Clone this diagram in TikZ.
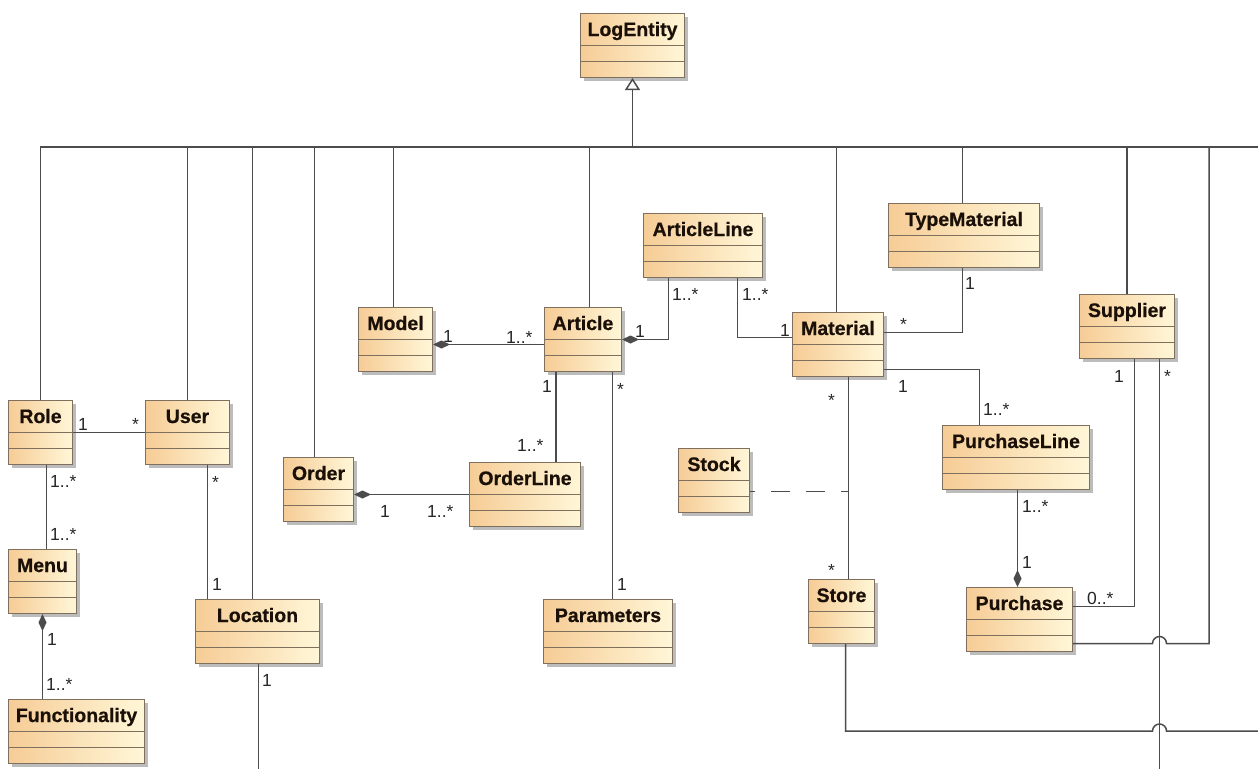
\documentclass[tikz,border=0pt]{standalone}
\usepackage{fontspec}
\setmainfont{Liberation Sans}
\newfontfamily\clsfont[FakeBold=0.6]{Liberation Sans Bold}
\usetikzlibrary{arrows.meta,shadows}

\definecolor{clsA}{HTML}{F6CC96}
\definecolor{clsB}{HTML}{FFF7D8}
\definecolor{clsBorder}{HTML}{7E705C}
\definecolor{linec}{HTML}{4C4C4C}
\definecolor{txt}{HTML}{1A1008}

\tikzset{
  cls/.style={draw=clsBorder, line width=1pt, left color=clsA, right color=clsB,
    anchor=north west, minimum height=64pt, inner sep=0pt,
    drop shadow={shadow xshift=3pt, shadow yshift=-3pt, fill=black!40, opacity=0.65}},
  clsline/.style={draw=clsBorder, line width=1pt},
  clsname/.style={anchor=base, inner sep=0pt, text=txt,
    font=\clsfont\fontsize{19.5}{21}\selectfont},
  mlt/.style={anchor=base west, inner sep=0pt, text=black!85,
    font=\fontsize{17.5}{20}\selectfont},
  conn/.style={draw=linec, line width=1.5pt},
  comp/.style={conn, -{Diamond[length=17pt,width=8pt,fill=linec]}},
  gen/.style={conn, -{Triangle[length=12pt,width=15pt,fill=white]}},
  assocls/.style={conn, dash pattern=on 19pt off 16pt, dash phase=14pt},
}

% a UML class box: id, left x, top y (pixels from the top), width, title
\newcommand\umlclass[5]{%
  \node[cls, minimum width=#4pt] (#1) at (#2,-#3) {};
  \node[clsname] (#1-name) at ([yshift=-23pt]#1.north) {#5};
  \draw[clsline] ([yshift=-32pt]#1.north west) -- ([yshift=-32pt]#1.north east);
  \draw[clsline] ([yshift=-48pt]#1.north west) -- ([yshift=-48pt]#1.north east);
}
% a multiplicity label: id, x, baseline y, text
\newcommand\mult[4]{\node[mlt] (#1) at (#2,-#3) {#4};}

\begin{document}
\begin{tikzpicture}[x=1pt,y=1pt]
\useasboundingbox[fill=white] (0,0) rectangle (1258,-769);

% ---------- classes ----------
\umlclass{logentity}{580}{13}{104}{LogEntity}
\umlclass{role}{8}{400}{64}{Role}
\umlclass{user}{145}{400}{84}{User}
\umlclass{menu}{8}{549}{68}{Menu}
\umlclass{functionality}{8}{699}{136}{Functionality}
\umlclass{location}{195}{599}{124}{Location}
\umlclass{order}{283}{457}{70}{Order}
\umlclass{orderline}{469}{462}{111}{OrderLine}
\umlclass{model}{358}{307}{74}{Model}
\umlclass{article}{544}{307}{77}{Article}
\umlclass{articleline}{643}{213}{119}{ArticleLine}
\umlclass{material}{792}{312}{91}{Material}
\umlclass{typematerial}{888}{203}{151}{TypeMaterial}
\umlclass{supplier}{1079}{294}{95}{Supplier}
\umlclass{purchaseline}{942}{425}{147}{PurchaseLine}
\umlclass{purchase}{966}{587}{106}{Purchase}
\umlclass{store}{808}{579}{66}{Store}
\umlclass{stock}{678}{448}{71}{Stock}
\umlclass{parameters}{543}{599}{129}{Parameters}

% ---------- generalization tree towards LogEntity ----------
\coordinate (busL) at (40,-147);
\coordinate (busR) at (1258,-147);
\coordinate (busP) at (1209,-147);
\draw[conn] (role.north) |- (busR);
\draw[gen] (logentity.south |- busL) -- (logentity.south);
\draw[conn] (user.north) -- (user.north |- busL);
\draw[conn] ([xshift=-5pt]location.north) -- ([xshift=-5pt]location.north |- busL);
\draw[conn] ([xshift=-4pt]order.north) -- ([xshift=-4pt]order.north |- busL);
\draw[conn] ([xshift=-2pt]model.north) -- ([xshift=-2pt]model.north |- busL);
\draw[conn] ([xshift=6.5pt]article.north) -- ([xshift=6.5pt]article.north |- busL);
\draw[conn] ([xshift=-1.5pt]material.north) -- ([xshift=-1.5pt]material.north |- busL);
\draw[conn] ([xshift=-1.5pt]typematerial.north) -- ([xshift=-1.5pt]typematerial.north |- busL);
\draw[conn] (supplier.north) -- (supplier.north |- busL);

% ---------- associations ----------
\draw[conn] (role.east) -- (user.west);
\draw[conn] ([xshift=6pt]role.south) -- ([xshift=6pt]role.south |- menu.north);
\draw[comp] (menu.south |- functionality.north) -- (menu.south);
\draw[conn] ([xshift=20pt]user.south) -- ([xshift=20pt]user.south |- location.north);
\coordinate (locEnd) at ([xshift=1pt]location.south |- 0,-769);
\draw[conn] ([xshift=1pt]location.south) -- (locEnd);

\draw[comp] (orderline.west) -- (orderline.west -| order.east);
\draw[conn] ([xshift=-27pt]article.south) -- ([xshift=-27pt]article.south |- orderline.north);
\draw[comp] ([yshift=-5pt]article.west) -- ([yshift=-5pt]article.west -| model.east);
\draw[comp] ([xshift=-34.5pt]articleline.south) |- (article.east);
\draw[conn] ([xshift=34.5pt]articleline.south) |- ([yshift=7pt]material.west);
\draw[conn] ([xshift=29.5pt]article.south) -- ([xshift=29.5pt]article.south |- parameters.north);

\draw[conn] ([yshift=12pt]material.east) -| ([xshift=-1.5pt]typematerial.south);
\draw[conn] ([yshift=-25pt]material.east) -| ([xshift=-36.5pt]purchaseline.north);
\coordinate (ms) at ([xshift=10.5pt]material.south);
\draw[conn] (ms) -- (ms |- store.north);
\draw[assocls] ([yshift=-11pt]stock.east) -- ([yshift=-11pt]stock.east -| ms);
\draw[comp] ([xshift=1.5pt]purchaseline.south) -- ([xshift=1.5pt]purchaseline.south |- purchase.north);
\draw[conn] ([xshift=7.5pt]supplier.south) |- ([yshift=13pt]purchase.east);

% Supplier's long connector and the two lines hopping over it
\coordinate (sv) at ([xshift=32.5pt]supplier.south);
\coordinate (svEnd) at (sv |- 0,-769);
\draw[conn] (sv) -- (svEnd);
\coordinate (pe) at ([yshift=-24pt]purchase.east);
\coordinate (hop1) at (sv |- pe);
\draw[conn] (pe) -- ([xshift=-7pt]hop1) arc[start angle=180, end angle=0, radius=7pt] -| (busP);
\coordinate (sb) at ([xshift=4pt]store.south);
\coordinate (sc) at ([yshift=-87pt]sb);
\coordinate (hop2) at (sv |- sc);
\coordinate (scEnd) at (1258,-731);
\draw[conn] (sb) -- (sc) -- ([xshift=-7pt]hop2) arc[start angle=180, end angle=0, radius=7pt] -- (scEnd);

% ---------- multiplicities ----------
\mult{m1}{78}{430}{1}
\mult{m2}{132}{430}{*}
\mult{m3}{50}{487}{1..*}
\mult{m4}{50}{540}{1..*}
\mult{m5}{212}{488}{*}
\mult{m6}{212}{590}{1}
\mult{m7}{47}{645}{1}
\mult{m8}{46}{690}{1..*}
\mult{m9}{262}{686}{1}
\mult{m10}{443}{342}{1}
\mult{m11}{506}{343}{1..*}
\mult{m12}{635}{337}{1}
\mult{m13}{672}{300}{1..*}
\mult{m14}{742}{300}{1..*}
\mult{m15}{780}{336}{1}
\mult{m16}{900}{330}{*}
\mult{m17}{965}{289}{1}
\mult{m18}{898}{392}{1}
\mult{m19}{983}{415}{1..*}
\mult{m20}{828}{406}{*}
\mult{m21}{828}{576}{*}
\mult{m22}{1022}{512}{1..*}
\mult{m23}{1022}{568}{1}
\mult{m24}{1087}{604}{0..*}
\mult{m25}{1114}{382}{1}
\mult{m26}{1164}{382}{*}
\mult{m27}{380}{517}{1}
\mult{m28}{427}{517}{1..*}
\mult{m29}{517}{451}{1..*}
\mult{m30}{542}{392}{1}
\mult{m31}{617}{395}{*}
\mult{m32}{617}{590}{1}
\end{tikzpicture}
\end{document}
